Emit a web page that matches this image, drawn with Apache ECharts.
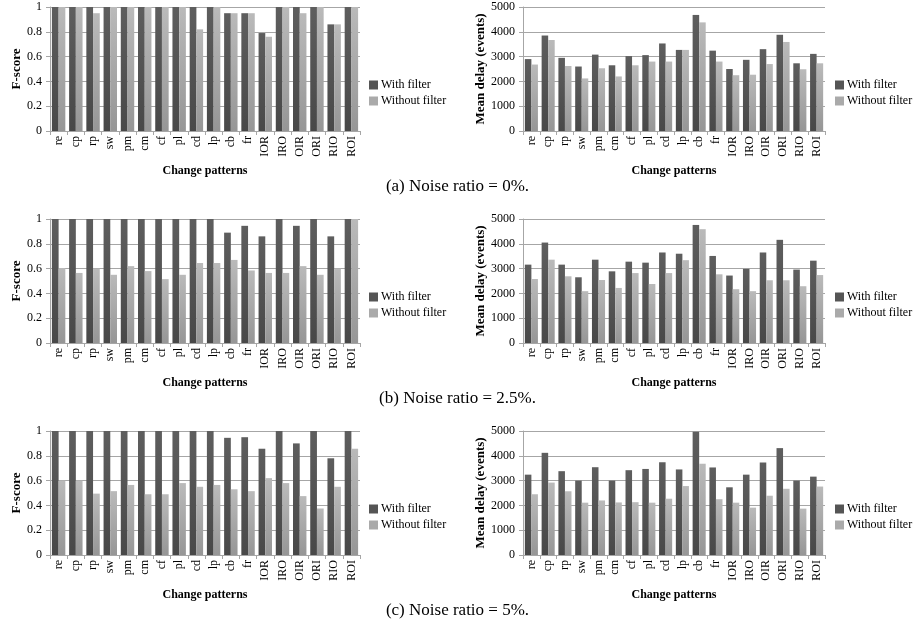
<!DOCTYPE html>
<html>
<head>
<meta charset="utf-8">
<script src="https://cdn.jsdelivr.net/npm/echarts@6/dist/echarts.min.js"></script>
<style>
  html, body { margin: 0; padding: 0; background: #fff; }
  #main { width: 915px; height: 623px; }
</style>
</head>
<body>
<div id="main"></div>
<script>
const categories = ['re', 'cp', 'rp', 'sw', 'pm', 'cm', 'cf', 'pl', 'cd', 'lp', 'cb', 'fr', 'IOR', 'IRO', 'OIR', 'ORI', 'RIO', 'ROI'];
const captions = ['(a) Noise ratio = 0%.', '(b) Noise ratio = 2.5%.', '(c) Noise ratio = 5%.'];
const fscoreTicks = [0, 0.2, 0.4, 0.6, 0.8, 1];
const delayTicks = [0, 1000, 2000, 3000, 4000, 5000];

// F-score
const fWith0 = [1, 1, 1, 1, 1, 1, 1, 1, 1, 1, 0.95, 0.95, 0.79, 1, 1, 1, 0.86, 1];
const fWithout0 = [1, 1, 0.95, 1, 1, 1, 1, 1, 0.82, 1, 0.95, 0.95, 0.76, 1, 0.95, 1, 0.86, 1];
const fWith25 = [1, 1, 1, 1, 1, 1, 1, 1, 1, 1, 0.89, 0.945, 0.86, 1, 0.945, 1, 0.86, 1];
const fWithout25 = [0.605, 0.565, 0.6, 0.55, 0.62, 0.58, 0.515, 0.55, 0.645, 0.645, 0.67, 0.585, 0.565, 0.565, 0.62, 0.55, 0.6, 1];
const fWith5 = [1, 1, 1, 1, 1, 1, 1, 1, 1, 1, 0.945, 0.95, 0.857, 1, 0.9, 1, 0.78, 1];
const fWithout5 = [0.6, 0.6, 0.495, 0.515, 0.565, 0.49, 0.49, 0.58, 0.55, 0.565, 0.53, 0.515, 0.62, 0.58, 0.475, 0.375, 0.55, 0.857];

// Mean delay (events)
const dWith0 = [2900, 3850, 2950, 2600, 3080, 2650, 3020, 3060, 3530, 3270, 4680, 3240, 2500, 2870, 3300, 3880, 2730, 3110];
const dWithout0 = [2680, 3670, 2620, 2120, 2530, 2200, 2650, 2800, 2800, 3270, 4380, 2800, 2250, 2270, 2700, 3590, 2490, 2730];
const dWith25 = [3160, 4050, 3160, 2650, 3360, 2890, 3280, 3240, 3650, 3600, 4760, 3510, 2720, 2990, 3650, 4160, 2960, 3320];
const dWithout25 = [2580, 3360, 2690, 2090, 2540, 2220, 2820, 2380, 2820, 3340, 4590, 2770, 2170, 2090, 2530, 2530, 2290, 2740];
const dWith5 = [3240, 4120, 3380, 3000, 3540, 3000, 3420, 3470, 3740, 3450, 4970, 3530, 2730, 3240, 3730, 4310, 3000, 3160];
const dWithout5 = [2450, 2920, 2570, 2110, 2200, 2120, 2130, 2110, 2270, 2780, 3680, 2250, 2110, 1910, 2390, 2670, 1870, 2760];

const fWith = [fWith0, fWith25, fWith5];
const fWithout = [fWithout0, fWithout25, fWithout5];
const dWith = [dWith0, dWith25, dWith5];
const dWithout = [dWithout0, dWithout25, dWithout5];

const serif = 'Liberation Serif';
const gridColor = '#a6a6a6';
const darkColor = new echarts.graphic.LinearGradient(0, 0, 0, 1, [
    { offset: 0, color: '#5e5e5e' },
    { offset: 1, color: '#484848' }
]);
const lightColor = new echarts.graphic.LinearGradient(0, 0, 0, 1, [
    { offset: 0, color: '#bababa' },
    { offset: 1, color: '#969696' }
]);

const rowTops = [7, 219, 431];
const plotH = 124;
const cols = [
    { left: 50, width: 310, legendLeft: 364 },
    { left: 523, width: 302, legendLeft: 830 }
];

const grids = [], xAxes = [], yAxes = [], series = [], legends = [], titles = [];

rowTops.forEach((top, r) => {
    titles.push({
        text: captions[r],
        left: 'center',
        top: top + 166,
        textStyle: { fontFamily: serif, fontSize: 17, fontWeight: 'normal', color: '#000' }
    });
    cols.forEach((c, k) => {
        const idx = grids.length;
        const isF = k === 0;
        grids.push({ left: c.left, top: top, width: c.width, height: plotH });
        xAxes.push({
            type: 'category',
            gridIndex: idx,
            data: categories,
            name: 'Change patterns',
            nameLocation: 'middle',
            nameGap: 34,
            nameTextStyle: { fontFamily: serif, fontSize: 12, fontWeight: 'bold', color: '#000' },
            axisLine: { lineStyle: { color: gridColor } },
            axisTick: { show: true, length: 4, lineStyle: { color: gridColor } },
            axisLabel: { rotate: 90, interval: 0, margin: 5, fontFamily: serif, fontSize: 12, color: '#000' }
        });
        yAxes.push({
            type: 'value',
            gridIndex: idx,
            min: 0,
            max: isF ? fscoreTicks[fscoreTicks.length - 1] : delayTicks[delayTicks.length - 1],
            interval: isF ? fscoreTicks[1] - fscoreTicks[0] : delayTicks[1] - delayTicks[0],
            name: isF ? 'F-score' : 'Mean delay (events)',
            nameLocation: 'middle',
            nameRotate: 90,
            nameGap: isF ? 25 : 31,
            nameTextStyle: { fontFamily: serif, fontSize: 13, fontWeight: 'bold', color: '#000' },
            axisLine: { show: true, lineStyle: { color: gridColor } },
            axisTick: { show: true, length: 4, lineStyle: { color: gridColor } },
            axisLabel: {
                margin: 8, fontFamily: serif, fontSize: 12, color: '#000',
                formatter: v => String(v)
            },
            splitLine: { show: true, lineStyle: { color: gridColor, width: 1 } }
        });
        const withData = isF ? fWith[r] : dWith[r];
        const withoutData = isF ? fWithout[r] : dWithout[r];
        series.push({
            name: 'With filter',
            type: 'bar',
            xAxisIndex: idx,
            yAxisIndex: idx,
            data: withData,
            barGap: '0%',
            barCategoryGap: '22%',
            itemStyle: { color: darkColor }
        });
        series.push({
            name: 'Without filter',
            type: 'bar',
            xAxisIndex: idx,
            yAxisIndex: idx,
            data: withoutData,
            barGap: '0%',
            barCategoryGap: '22%',
            itemStyle: { color: lightColor }
        });
        legends.push({
            orient: 'vertical',
            left: c.legendLeft,
            top: top + 67,
            itemWidth: 9,
            itemHeight: 9,
            itemGap: 4,
            icon: 'rect',
            selectedMode: false,
            data: [
                { name: 'With filter', itemStyle: { color: '#555' } },
                { name: 'Without filter', itemStyle: { color: '#aaa' } }
            ],
            textStyle: { fontFamily: serif, fontSize: 12, color: '#000', padding: [0, 0, 0, -2] }
        });
    });
});

const myChart = echarts.init(document.getElementById('main'));
myChart.setOption({
    animation: false,
    backgroundColor: '#fff',
    title: titles,
    legend: legends,
    grid: grids,
    xAxis: xAxes,
    yAxis: yAxes,
    series: series
});
window.addEventListener('resize', () => {
    myChart.resize();
});
</script>
</body>
</html>
